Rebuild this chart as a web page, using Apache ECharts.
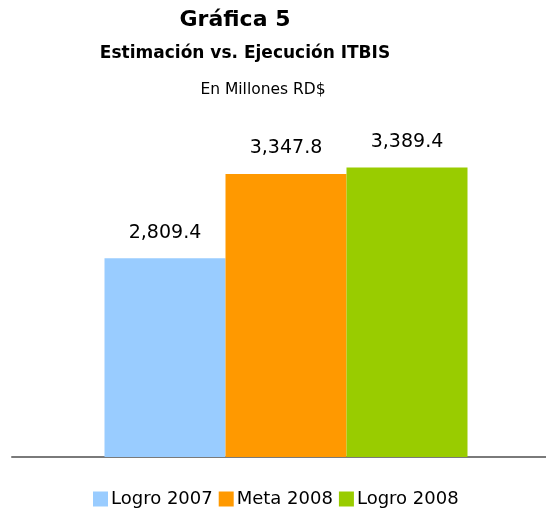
<!DOCTYPE html>
<html><head><meta charset="utf-8">
<script src="https://cdn.jsdelivr.net/npm/echarts@6/dist/echarts.min.js"></script>
<style>html,body{margin:0;padding:0;background:#fff}#c{width:546px;height:508px}</style>
</head><body><div id="c"></div>
<script>
const categories = ['ITBIS'];
const seriesNames = ['Logro 2007', 'Meta 2008', 'Logro 2008'];
const values = [2809.4, 3347.8, 3389.4];
const colors = ['#99CCFF', '#FF9900', '#99CC00'];

const font = 'DejaVu Sans';
const chart = echarts.init(document.getElementById('c'));
chart.setOption({
  backgroundColor: '#fff',
  animation: false,
  title: [
    {text: 'Gráfica 5', left: 230, top: 4, textAlign: 'center',
     textStyle: {fontFamily: font, fontSize: 22, fontWeight: 'bold', color: '#000'}},
    {text: 'Estimación vs. Ejecución ITBIS', left: 240, top: 40, textAlign: 'center',
     textStyle: {fontFamily: font, fontSize: 17, fontWeight: 'bold', color: '#000'}},
    {text: 'En Millones RD$', left: 258, top: 77, textAlign: 'center',
     textStyle: {fontFamily: font, fontSize: 15.5, fontWeight: 'normal', color: '#000'}}
  ],
  legend: {
    bottom: -5, left: 88, itemWidth: 15, itemHeight: 15, itemGap: 6,
    icon: 'rect',
    textStyle: {fontFamily: font, fontSize: 18, color: '#000', padding: [0,0,0,-2]},
    data: seriesNames
  },
  grid: [
    {left: 26, right: 0, top: 100, bottom: 51},
    {left: 12, right: 0, top: 100, bottom: 51}
  ],
  xAxis: [
    {type: 'category', data: categories, gridIndex: 0,
      axisLine: {show: false}, axisTick: {show: false}, axisLabel: {show: false}},
    {type: 'category', data: categories, gridIndex: 1,
      axisLine: {show: true, lineStyle: {color: '#7a7a7a', width: 2}},
      axisTick: {show: false}, axisLabel: {show: false}}
  ],
  yAxis: [
    {type: 'value', min: 1540, max: 3820, show: false, splitLine: {show: false}, gridIndex: 0},
    {type: 'value', min: 0, max: 1, show: false, splitLine: {show: false}, gridIndex: 1}
  ],
  series: seriesNames.map((n, i) => ({
    name: n, type: 'bar', barWidth: 121, barGap: '0%',
    itemStyle: {color: colors[i]},
    label: {show: true, position: 'top', distance: 16,
      fontFamily: font, fontSize: 19, color: '#000',
      formatter: p => p.value.toLocaleString('en-US', {minimumFractionDigits: 1, maximumFractionDigits: 1})},
    data: [values[i]]
  }))
});
</script></body></html>
